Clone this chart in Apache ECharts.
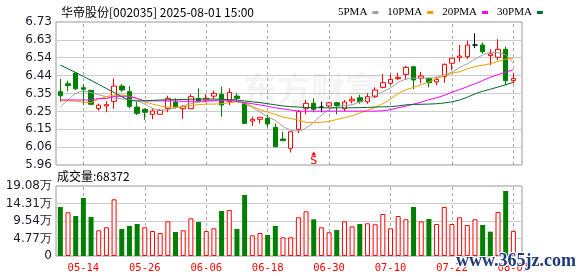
<!DOCTYPE html>
<html><head><meta charset="utf-8">
<script src="https://cdn.jsdelivr.net/npm/echarts@6/dist/echarts.min.js"></script>
<style>html,body{margin:0;padding:0;background:#fff}#c{width:578px;height:276px}</style>
</head><body><div id="c"></div>
<script>
const titleText = '华帝股份[002035] 2025-08-01 15:00';
const dates = ['05-09','05-12','05-13','05-14','05-15','05-16','05-19','05-20','05-21','05-22','05-23','05-26','05-27','05-28','05-29','05-30',
 '06-03','06-04','06-05','06-06','06-09','06-10','06-11','06-12','06-13','06-16','06-17','06-18','06-19','06-20','06-23','06-24','06-25','06-26','06-27','06-30',
 '07-01','07-02','07-03','07-04','07-07','07-08','07-09','07-10','07-11','07-14','07-15','07-16','07-17','07-18','07-21','07-22','07-23','07-24','07-25','07-28','07-29','07-30','07-31','08-01'];
const labelDates = ['05-14','05-26','06-06','06-18','06-30','07-10','07-22','08-01'];
const opens  = [6.355,6.398,6.455,6.376,6.362,6.264,6.278,6.303,6.385,6.355, 6.272,6.260,6.233,6.233,6.265,6.299,6.263,6.263,6.319,6.310, 6.331,6.341,6.301,6.331,6.295,6.197,6.206,6.211,6.163,6.100, 6.050,6.152,6.265,6.292,6.272,6.278,6.295,6.263,6.305,6.322, 6.301,6.328,6.378,6.400,6.425,6.448,6.489,6.427,6.427,6.407, 6.436,6.508,6.538,6.543,6.606,6.606,6.549,6.540,6.583,6.414];
const closes = [6.333,6.388,6.370,6.368,6.287,6.282,6.285,6.385,6.364,6.276, 6.238,6.244,6.251,6.254,6.319,6.274,6.274,6.328,6.305,6.319, 6.346,6.283,6.351,6.319,6.184,6.206,6.217,6.181,6.058,6.091, 6.139,6.247,6.292,6.260,6.272,6.295,6.281,6.299,6.314,6.301, 6.328,6.364,6.403,6.421,6.432,6.486,6.418,6.439,6.403,6.421, 6.502,6.535,6.547,6.606,6.606,6.570,6.558,6.583,6.414,6.425];
const lows   = [6.301,6.357,6.364,6.283,6.283,6.252,6.244,6.262,6.354,6.265, 6.229,6.203,6.206,6.233,6.244,6.264,6.209,6.263,6.301,6.297, 6.315,6.220,6.283,6.306,6.184,6.170,6.184,6.163,6.058,6.091, 6.028,6.131,6.233,6.244,6.244,6.270,6.233,6.250,6.292,6.290, 6.290,6.320,6.373,6.390,6.417,6.417,6.368,6.400,6.378,6.390, 6.403,6.470,6.516,6.530,6.589,6.560,6.498,6.525,6.390,6.400];
const highs  = [6.423,6.414,6.456,6.395,6.365,6.290,6.303,6.427,6.395,6.385, 6.300,6.265,6.265,6.262,6.333,6.319,6.283,6.342,6.373,6.342, 6.360,6.382,6.373,6.346,6.300,6.220,6.217,6.229,6.184,6.139, 6.139,6.256,6.310,6.319,6.301,6.300,6.300,6.310,6.330,6.338, 6.346,6.378,6.450,6.450,6.456,6.493,6.493,6.462,6.430,6.435, 6.507,6.535,6.606,6.630,6.669,6.620,6.583,6.637,6.597,6.454];
const ma5  = [6.274,6.31,6.345,6.357,6.35,6.338,6.328,6.32,6.316,6.312, 6.305,6.288,6.265,6.255,6.258,6.268,6.278,6.29,6.298,6.303, 6.307,6.31,6.31,6.302,6.29,6.27,6.245,6.22,6.2,6.168, 6.148,6.142,6.16,6.19,6.228,6.258,6.274,6.28,6.285,6.30, 6.318,6.335,6.355,6.375,6.405,6.422,6.428,6.428,6.428,6.432, 6.445,6.46,6.485,6.505,6.53,6.552,6.565,6.565,6.552,6.507];
const ma10 = [6.306,6.306,6.304,6.298,6.295,6.315,6.328,6.337,6.337,6.33, 6.318,6.30,6.288,6.278,6.272,6.27,6.275,6.28,6.285,6.288, 6.288,6.29,6.295,6.30,6.296,6.275,6.258,6.245,6.232,6.218, 6.21,6.202,6.19,6.188,6.19,6.195,6.205,6.215,6.225,6.24, 6.255,6.27,6.29,6.315,6.345,6.365,6.378,6.392,6.408,6.425, 6.44,6.455,6.462,6.478,6.49,6.498,6.505,6.518,6.53,6.534];
const ma20 = [6.31,6.31,6.31,6.31,6.31,6.318,6.318,6.33,6.33,6.33, 6.318,6.305,6.305,6.305,6.305,6.305,6.303,6.303,6.303,6.305, 6.306,6.306,6.306,6.303,6.296,6.29,6.283,6.276,6.268,6.262, 6.256,6.25,6.25,6.25,6.25,6.25,6.25,6.25,6.25,6.25, 6.25,6.25,6.252,6.258,6.268,6.277,6.288,6.298,6.312,6.322, 6.335,6.352,6.366,6.382,6.397,6.415,6.432,6.447,6.46,6.473];
const ma30 = [6.498,6.478,6.458,6.437,6.416,6.394,6.372,6.350,6.328,6.307, 6.305,6.306,6.308,6.310,6.311,6.312,6.313,6.314,6.315,6.315, 6.315,6.314,6.313,6.310,6.305,6.300,6.296,6.290,6.284,6.278, 6.274,6.272,6.270,6.269,6.268,6.268,6.268,6.268,6.268,6.269, 6.270,6.272,6.273,6.274,6.278,6.284,6.286,6.287,6.288,6.290, 6.294,6.300,6.310,6.325,6.343,6.357,6.368,6.380,6.392,6.405];
const volumes = [133560,119100,109000,158100,106300,70000,78200,154500,73600,81800, 87200,78200,68100,62700,94500,65400,70000,102700,92700,68100, 75500,122700,125400,73600,166300,56400,62700,57200,81800,51000, 51000,105500,121800,100000,78200,64600,70900,94500,80900,87200, 89100,86400,114500,75500,109000,100000,133600,94500,100900,87200, 133600,87200,105500,84500,100000,84500,66300,119900,177200,68372];
const volUp = [0,1,0,0,0,1,1,1,0,0, 0,1,1,1,1,0,1,1,0,1, 1,0,1,0,0,1,1,0,0,1, 1,1,1,0,1,1,0,1,1,0, 1,1,1,1,1,1,0,1,0,1, 1,1,1,1,1,0,0,1,0,1];
const signalDate = '06-26';
const signalPrice = 6.022;
const priceMin = 5.96, priceMax = 6.73;
const volMax = 190800;

const RED = '#ff0000', GREEN = '#008000';
const priceStep = (priceMax - priceMin) / 8;
const volStep = volMax / 4;
const labelIdx = labelDates.map(d => dates.indexOf(d));

const candleData = dates.map((d, i) => {
  const item = { value: [opens[i], closes[i], lows[i], highs[i]] };
  if (opens[i] === closes[i]) item.itemStyle = { color: '#000', color0: '#000', borderColor: '#000', borderColor0: '#000' };
  return item;
});
const volData = volumes.map((v, i) => volUp[i]
  ? { value: v, itemStyle: { color: '#fff', borderColor: RED, borderWidth: 1 } }
  : { value: v, itemStyle: { color: GREEN, borderColor: GREEN, borderWidth: 0 } });

const axisFont = 'DejaVu Sans';
const GL = 56.5, GW = 460.7;

function vLines(lo, hi) {
  return {
    silent: true, symbol: ['none', 'none'], label: { show: false }, z: 1,
    lineStyle: { color: '#a8a8a8', type: [3, 3], width: 1 },
    emphasis: { disabled: true },
    data: labelIdx.map(i => [{ coord: [i, lo] }, { coord: [i, hi] }])
  };
}

const chart = echarts.init(document.getElementById('c'), null, { renderer: 'canvas' });
chart.setOption({
  animation: false,
  backgroundColor: '#fff',
  title: { text: titleText, left: 56, top: 1, textStyle: { fontSize: 12, fontWeight: 'normal', color: '#000', fontFamily: 'Noto Sans CJK SC' } },
  legend: {
    data: ['5PMA', '10PMA', '20PMA', '30PMA'], left: 333, top: 2, align: 'right', icon: 'rect',
    itemWidth: 6, itemHeight: 3, itemGap: 9, selectedMode: false,
    textStyle: { fontSize: 11, color: '#000', fontFamily: 'Liberation Serif' }
  },
  graphic: [
    { type: 'text', left: 243, top: 72, z: 1, silent: true, style: { text: '东方财富', fill: 'rgba(0,0,0,0.045)', font: 'bold 34px "Noto Sans CJK SC"' } },
    { type: 'text', left: 57, top: 170, z: 10, style: { text: '成交量:' + volumes[volumes.length - 1], fill: '#000', font: '12px "Noto Sans CJK SC"' } },
    { type: 'text', left: 455, top: 251, z: 100, style: { text: 'www.365jz.com', fill: '#1e3a7a', stroke: '#fff', lineWidth: 2, font: 'bold 18px "Liberation Serif"' } }
  ],
  grid: [
    { left: 56, top: 22, width: 466, height: 143, show: true, borderColor: '#999', borderWidth: 1, backgroundColor: 'transparent' },
    { left: GL, top: 22, width: GW, height: 143 },
    { left: 56, top: 186, width: 466, height: 70, show: true, borderColor: '#999', borderWidth: 1, backgroundColor: 'transparent' },
    { left: GL, top: 186, width: GW, height: 70 }
  ],
  xAxis: [
    { gridIndex: 0, type: 'value', show: false, min: 0, max: 1 },
    { gridIndex: 1, type: 'category', data: dates, boundaryGap: true, axisLine: { show: false }, axisTick: { show: false }, axisLabel: { show: false }, splitLine: { show: false } },
    { gridIndex: 2, type: 'value', show: false, min: 0, max: 1 },
    { gridIndex: 3, type: 'category', data: dates, boundaryGap: true, axisLine: { show: false }, axisTick: { show: false }, splitLine: { show: false },
      axisLabel: { interval: (i, v) => labelDates.includes(v), color: RED, fontSize: 10.5, fontFamily: 'DejaVu Sans Mono', margin: 7 } }
  ],
  yAxis: [
    { gridIndex: 0, type: 'value', min: priceMin, max: priceMax, interval: priceStep,
      axisLine: { show: false }, axisTick: { show: false },
      splitLine: { show: true, showMinLine: false, showMaxLine: false, lineStyle: { color: '#cccccc', width: 1 } },
      axisLabel: { margin: 4, color: '#1a1a2a', fontSize: 12, fontFamily: axisFont, formatter: v => (Math.round(v * 100 + 1e-4) / 100).toFixed(2) } },
    { gridIndex: 1, type: 'value', min: priceMin, max: priceMax, show: false, splitLine: { show: false } },
    { gridIndex: 2, type: 'value', min: 0, max: volMax, interval: volStep,
      axisLine: { show: false }, axisTick: { show: false },
      splitLine: { show: true, showMinLine: false, showMaxLine: false, lineStyle: { color: '#cccccc', width: 1 } },
      axisLabel: { margin: 4, color: '#1a1a2a', fontSize: 12, fontFamily: axisFont, formatter: v => v === 0 ? '0' : (v / 10000).toFixed(2) + '万' } },
    { gridIndex: 3, type: 'value', min: 0, max: volMax, show: false, splitLine: { show: false } }
  ],
  series: [
    { type: 'candlestick', name: 'K', xAxisIndex: 1, yAxisIndex: 1, data: candleData, barWidth: 5,
      itemStyle: { color: '#fff', color0: GREEN, borderColor: RED, borderColor0: GREEN, borderColorDoji: '#000', borderWidth: 1 },
      markLine: vLines(priceMin, priceMax),
      markPoint: { silent: true, data: [{ coord: [signalDate, signalPrice], symbol: 'triangle', symbolSize: [5, 4], symbolOffset: [0, 0],
        itemStyle: { color: RED }, label: { show: true, position: 'bottom', distance: 0, formatter: 'S', color: RED, fontSize: 11, fontFamily: 'DejaVu Sans' } }] } },
    { type: 'line', name: '5PMA', xAxisIndex: 1, yAxisIndex: 1, data: ma5, showSymbol: false, smooth: 0.3, color: '#a0a0a0', lineStyle: { width: 1, color: '#a0a0a0' } },
    { type: 'line', name: '10PMA', xAxisIndex: 1, yAxisIndex: 1, data: ma10, showSymbol: false, color: '#f0a000', lineStyle: { width: 1, color: '#f0a000' } },
    { type: 'line', name: '20PMA', xAxisIndex: 1, yAxisIndex: 1, data: ma20, showSymbol: false, color: '#ff00ff', lineStyle: { width: 1, color: '#ff00ff' } },
    { type: 'line', name: '30PMA', xAxisIndex: 1, yAxisIndex: 1, data: ma30, showSymbol: false, color: '#006a30', lineStyle: { width: 1, color: '#006a30' } },
    { type: 'bar', name: 'VOL', xAxisIndex: 3, yAxisIndex: 3, data: volData, barWidth: 5, markLine: vLines(0, volMax) }
  ]
});
</script></body></html>
